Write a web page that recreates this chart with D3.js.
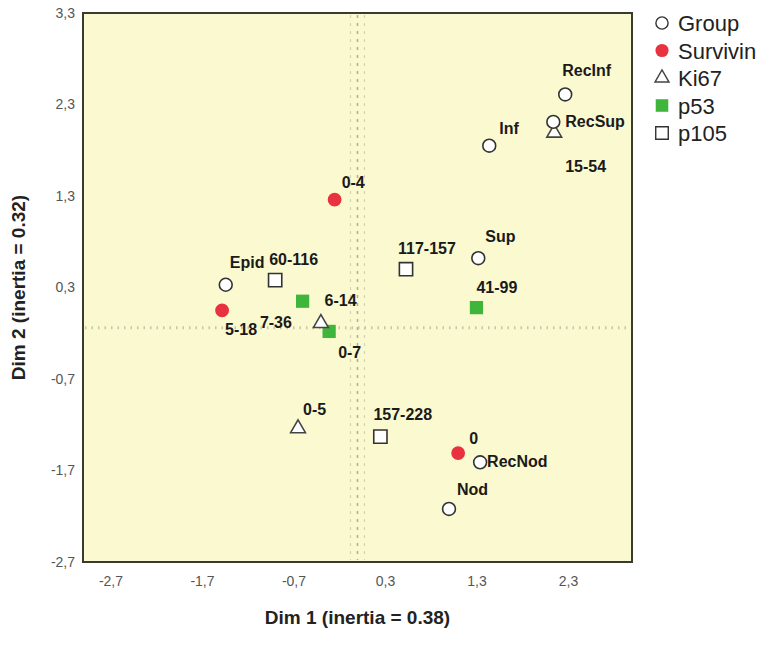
<!DOCTYPE html>
<html>
<head>
<meta charset="utf-8">
<script src="https://cdn.jsdelivr.net/npm/d3@7"></script>
<style>
  body { margin: 0; background: #fff; }
  text { font-family: "Liberation Sans", Arial, sans-serif; }
</style>
</head>
<body>
<div id="chart"></div>
<script>
// category points, one array per variable
var groupLabels = ["RecInf", "RecSup", "Inf", "Sup", "Epid", "RecNod", "Nod"];
var groupDim1 = [2.27, 2.14, 1.44, 1.32, -1.44, 1.34, 1.00];
var groupDim2 = [2.41, 2.11, 1.85, 0.62, 0.33, -1.61, -2.12];

var survivinLabels = ["0-4", "5-18", "0"];
var survivinDim1 = [-0.25, -1.48, 1.10];
var survivinDim2 = [1.26, 0.05, -1.51];

var ki67Labels = ["15-54", "7-36", "0-5"];
var ki67Dim1 = [2.15, -0.40, -0.65];
var ki67Dim2 = [1.99, -0.09, -1.24];

var p53Labels = ["6-14", "0-7", "41-99"];
var p53Dim1 = [-0.60, -0.31, 1.30];
var p53Dim2 = [0.15, -0.18, 0.08];

var p105Labels = ["60-116", "117-157", "157-228"];
var p105Dim1 = [-0.90, 0.53, 0.25];
var p105Dim2 = [0.38, 0.50, -1.33];

var tickValues = [-2.7, -1.7, -0.7, 0.3, 1.3, 2.3, 3.3];
var refDim1 = 0, refDim2 = -0.14;
var seriesNames = ["Group", "Survivin", "Ki67", "p53", "p105"];

// label placement (pixels from the marker), kept apart from the data
var labelOffset = {
    "RecInf": [-3, -18], "RecSup": [12, 5], "Inf": [10, -12], "Sup": [7, -16],
    "Epid": [4, -17], "RecNod": [7, 5], "Nod": [8, -14],
    "0-4": [7, -12], "5-18": [3, 25], "0": [11, -9],
    "15-54": [11, 39], "7-36": [-61, 5], "0-5": [5, -13],
    "6-14": [22, 5], "0-7": [9, 27], "41-99": [0, -15],
    "60-116": [-6, -15], "117-157": [-8, -15], "157-228": [-7, -17]
};

var W = 771, H = 649;
var plot = { left: 83, top: 13, right: 632, bottom: 562 };

var svg = d3.select("#chart").append("svg")
    .attr("width", W).attr("height", H);

var x = d3.scaleLinear().domain([-3, 3]).range([plot.left, plot.right]);
var y = d3.scaleLinear().domain([-2.7, 3.3]).range([plot.bottom, plot.top]);

var fmt = function (d) { return d3.format(".1f")(d).replace(".", ",").replace("\u2212", "-"); };

// background
svg.append("rect")
    .attr("x", plot.left).attr("y", plot.top)
    .attr("width", plot.right - plot.left).attr("height", plot.bottom - plot.top)
    .attr("fill", "#fbf9cf");

// reference lines
svg.append("line")
    .attr("x1", x(refDim1)).attr("x2", x(refDim1))
    .attr("y1", plot.top + 2).attr("y2", plot.bottom - 2)
    .attr("stroke", "#b0ae96").attr("stroke-width", 1.5)
    .attr("stroke-dasharray", "3,5");
[-7, 7].forEach(function (o) {
    svg.append("line")
        .attr("x1", x(refDim1) + o).attr("x2", x(refDim1) + o)
        .attr("y1", plot.top + 2).attr("y2", plot.bottom - 2)
        .attr("stroke", "#d6d4b8").attr("stroke-width", 1.2)
        .attr("stroke-dasharray", "3,5");
});
svg.append("line")
    .attr("x1", plot.left + 2).attr("x2", plot.right - 2)
    .attr("y1", y(refDim2)).attr("y2", y(refDim2))
    .attr("stroke", "#c8c6a8").attr("stroke-width", 3)
    .attr("stroke-dasharray", "1.5,5");

// axes (labels only, no tick marks)
var xAxis = svg.append("g")
    .attr("transform", "translate(0," + plot.bottom + ")")
    .call(d3.axisBottom(x).tickValues(tickValues.slice(0, 6)).tickFormat(fmt).tickSize(0).tickPadding(14));
var yAxis = svg.append("g")
    .attr("transform", "translate(" + plot.left + ",0)")
    .call(d3.axisLeft(y).tickValues(tickValues).tickFormat(fmt).tickSize(0).tickPadding(8));
[xAxis, yAxis].forEach(function (a) {
    a.select(".domain").remove();
    a.selectAll("text").attr("font-size", 14).attr("fill", "#555")
        .attr("font-family", "Liberation Sans, Arial, sans-serif");
});

// frame
svg.append("rect")
    .attr("x", plot.left).attr("y", plot.top)
    .attr("width", plot.right - plot.left).attr("height", plot.bottom - plot.top)
    .attr("fill", "none").attr("stroke", "#3a3a30").attr("stroke-width", 2);

// axis titles
svg.append("text")
    .attr("x", (plot.left + plot.right) / 2).attr("y", 624)
    .attr("text-anchor", "middle").attr("font-size", 19).attr("font-weight", "bold")
    .attr("fill", "#222")
    .text("Dim 1 (inertia = 0.38)");
svg.append("text")
    .attr("transform", "translate(25," + ((plot.top + plot.bottom) / 2) + ") rotate(-90)")
    .attr("text-anchor", "middle").attr("font-size", 19).attr("font-weight", "bold")
    .attr("fill", "#222")
    .text("Dim 2 (inertia = 0.32)");

// marker styles
var styles = {
    "Group":    { type: d3.symbolCircle,   size: 130, fill: "#fff",    stroke: "#333" },
    "Survivin": { type: d3.symbolCircle,   size: 150, fill: "#e8323f", stroke: "none" },
    "Ki67":     { type: d3.symbolTriangle, size: 95,  fill: "#fff",    stroke: "#444" },
    "p53":      { type: d3.symbolSquare,   size: 175, fill: "#3fb53c", stroke: "none" },
    "p105":     { type: d3.symbolSquare,   size: 175, fill: "#fff",    stroke: "#333" }
};

function build(name, labels, d1, d2) {
    return labels.map(function (l, i) { return { series: name, label: l, d1: d1[i], d2: d2[i] }; });
}
var points = [].concat(
    build("p105", p105Labels, p105Dim1, p105Dim2),
    build("p53", p53Labels, p53Dim1, p53Dim2),
    build("Ki67", ki67Labels, ki67Dim1, ki67Dim2),
    build("Survivin", survivinLabels, survivinDim1, survivinDim2),
    build("Group", groupLabels, groupDim1, groupDim2)
);

svg.selectAll(".pt")
    .data(points)
    .enter().append("path")
    .attr("class", "pt")
    .attr("transform", function (d) { return "translate(" + x(d.d1) + "," + y(d.d2) + ")"; })
    .attr("d", function (d) { return d3.symbol().type(styles[d.series].type).size(styles[d.series].size)(); })
    .attr("fill", function (d) { return styles[d.series].fill; })
    .attr("stroke", function (d) { return styles[d.series].stroke; })
    .attr("stroke-width", 1.6);

svg.selectAll(".lbl")
    .data(points)
    .enter().append("text")
    .attr("class", "lbl")
    .attr("x", function (d) { return x(d.d1) + labelOffset[d.label][0]; })
    .attr("y", function (d) { return y(d.d2) + labelOffset[d.label][1]; })
    .attr("font-size", 16).attr("font-weight", "bold").attr("fill", "#1a1a1a")
    .text(function (d) { return d.label; });

// legend
var legend = svg.append("g").attr("transform", "translate(662,23)");
var rows = legend.selectAll("g")
    .data(seriesNames)
    .enter().append("g")
    .attr("transform", function (d, i) { return "translate(0," + (i * 27.5) + ")"; });
rows.append("path")
    .attr("d", function (d) { return d3.symbol().type(styles[d].type).size(styles[d].size * 0.9)(); })
    .attr("fill", function (d) { return styles[d].fill; })
    .attr("stroke", function (d) { return styles[d].stroke; })
    .attr("stroke-width", 1.4);
rows.append("text")
    .attr("x", 16).attr("y", 8)
    .attr("font-size", 22).attr("fill", "#222")
    .text(function (d) { return d; });
</script>
</body>
</html>
